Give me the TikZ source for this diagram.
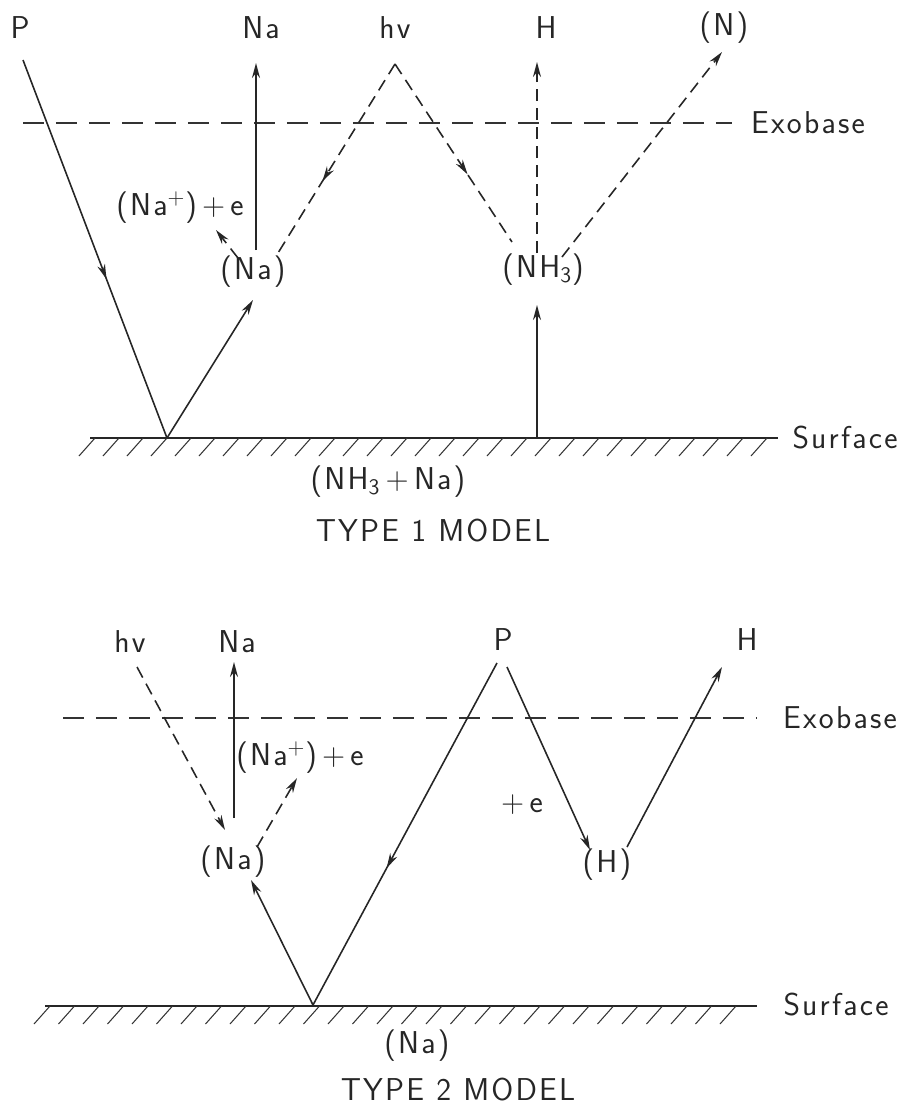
\documentclass[tikz,border=0pt]{standalone}
\usepackage{fontspec}
\setsansfont{Latin Modern Sans}[LetterSpace=7]
\usepackage{tikz}
\usetikzlibrary{arrows.meta,decorations.markings}

\begin{document}
\begin{tikzpicture}[x=0.02cm, y=-0.02cm, font=\sffamily\fontsize{18}{21}\selectfont,
  lbl/.style={inner sep=1pt, text=black!85},
  ray/.style={draw=black!85, line width=0.9pt},
  dray/.style={ray, dash pattern=on 0.24cm off 0.14cm},
  exo/.style={draw=black!80, line width=0.8pt, dash pattern=on 0.42cm off 0.24cm},
  surf/.style={draw=black!85, line width=0.9pt},
  hatch/.style={draw=black!80, line width=0.6pt},
  tip/.style={-{Stealth[length=3mm,width=1.6mm]}},
  midarr/.style={postaction={decorate}, decoration={markings,
    mark=at position #1 with {\arrow{Stealth[length=3mm,width=1.6mm]}}}}]
\useasboundingbox (0,0) rectangle (905,1107);
% Type 1 model: labels
\node[lbl] (p1) at (20,28) {P};
\node[lbl] (na1top) at (261,28) {Na};
\node[lbl] (hv1) at (395,28) {hv};
\node[lbl] (h1top) at (546,28) {H};
\node[lbl] (n1) at (724,28) {(N)};
\node[lbl] (exo1) at (808,123) {Exobase};
\node[lbl] (ion1) at (180,208) {(Na\textsuperscript{+})\,+\,e};
\node[lbl] (na1) at (253,272) {(Na)};
\node[lbl] (nh1) at (543,270) {(NH\textsubscript{3})};
\node[lbl] (surf1) at (845,438) {Surface};
\node[lbl] (ads1) at (388,482) {(NH\textsubscript{3}\,+\,Na)};
\node[lbl] (type1) at (433,531) {TYPE 1 MODEL};
% Type 1 model: path ends
\coordinate (v1) at (167,438);
\coordinate (p1a) at (23,60);
\coordinate (na1b) at (253,300);
\coordinate (na1u) at (256,250);
\coordinate (na1t) at (256,63);
\coordinate (ion1a) at (238,258);
\coordinate (ion1b) at (216,230);
\coordinate (hv1a) at (395,64);
\coordinate (hv1l) at (278,253);
\coordinate (hv1r) at (512,242);
\coordinate (h1a) at (537,253);
\coordinate (h1b) at (537,62);
\coordinate (n1a) at (562,257);
\coordinate (n1b) at (722,52);
\coordinate (nh1s) at (537,438);
\coordinate (nh1b) at (537,305);
\coordinate (e1l) at (23,123);
\coordinate (e1r) at (732,123);
\coordinate (s1l) at (90,438);
\coordinate (s1r) at (778,438);
% Type 1 model: exobase and surface
\draw[exo] (e1l) -- (e1r);
\draw[surf] (s1l) -- (s1r);
\foreach \hx in {95,119,...,767}
  \draw[hatch] (\hx,438) -- ++(-16,18);
% Type 1 model: rays
\draw[ray, midarr=0.58] (p1a) -- (v1);
\draw[ray, tip] (v1) -- (na1b);
\draw[ray, tip] (na1u) -- (na1t);
\draw[dray, tip] (ion1a) -- (ion1b);
\draw[dray, midarr=0.62] (hv1a) -- (hv1l);
\draw[dray, midarr=0.62] (hv1a) -- (hv1r);
\draw[dray, tip] (h1a) -- (h1b);
\draw[dray, tip] (n1a) -- (n1b);
\draw[ray, tip] (nh1s) -- (nh1b);
% Type 2 model: labels
\node[lbl] (hv2) at (130,642) {hv};
\node[lbl] (na2top) at (237,642) {Na};
\node[lbl] (p2) at (503,640) {P};
\node[lbl] (h2top) at (747,640) {H};
\node[lbl] (exo2) at (840,718) {Exobase};
\node[lbl] (ion2) at (300,758) {(Na\textsuperscript{+})\,+\,e};
\node[lbl] (el2) at (522,805) {+\,e};
\node[lbl] (na2) at (233,862) {(Na)};
\node[lbl] (hh2) at (607,865) {(H)};
\node[lbl] (surf2) at (836,1005) {Surface};
\node[lbl] (ads2) at (417,1046) {(Na)};
\node[lbl] (type2) at (458,1090) {TYPE 2 MODEL};
% Type 2 model: path ends
\coordinate (v2) at (313,1005);
\coordinate (hv2a) at (137,667);
\coordinate (hv2b) at (225,830);
\coordinate (na2u) at (234,818);
\coordinate (na2t) at (234,662);
\coordinate (ion2a) at (257,847);
\coordinate (ion2b) at (297,778);
\coordinate (na2b) at (251,880);
\coordinate (p2l) at (497,663);
\coordinate (p2r) at (507,667);
\coordinate (hh2a) at (590,850);
\coordinate (hh2b) at (627,847);
\coordinate (h2t) at (722,667);
\coordinate (e2l) at (63,718);
\coordinate (e2r) at (757,718);
\coordinate (s2l) at (45,1006);
\coordinate (s2r) at (757,1006);
% Type 2 model: exobase and surface
\draw[exo] (e2l) -- (e2r);
\draw[surf] (s2l) -- (s2r);
\foreach \hx in {50,74.5,...,752}
  \draw[hatch] (\hx,1006) -- ++(-16,18);
% Type 2 model: rays
\draw[dray, tip] (hv2a) -- (hv2b);
\draw[ray, tip] (na2u) -- (na2t);
\draw[dray, tip] (ion2a) -- (ion2b);
\draw[ray, tip] (v2) -- (na2b);
\draw[ray, midarr=0.6] (p2l) -- (v2);
\draw[ray, tip] (p2r) -- (hh2a);
\draw[ray, tip] (hh2b) -- (h2t);
\end{tikzpicture}
\end{document}
